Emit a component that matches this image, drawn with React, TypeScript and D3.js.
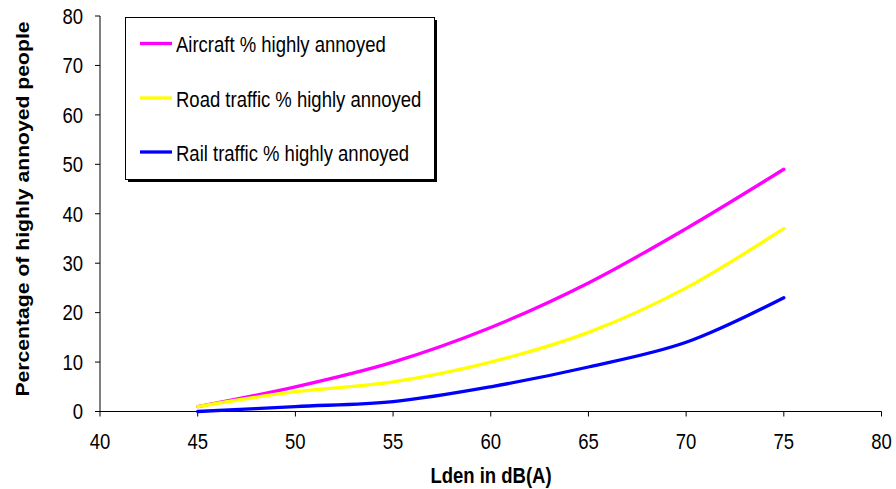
import React from "react";
import * as d3 from "d3";

const xLevels = [45, 50, 55, 60, 65, 70, 75];
const aircraft = [1, 5, 10, 17, 26, 37, 49];
const road = [1, 4, 6, 10, 16, 25, 37];
const rail = [0, 1, 2, 5, 9, 14, 23];
const xTicks = [40, 45, 50, 55, 60, 65, 70, 75, 80];
const yTicks = [0, 10, 20, 30, 40, 50, 60, 70, 80];
const seriesNames = ["Aircraft % highly annoyed", "Road traffic % highly annoyed", "Rail traffic % highly annoyed"];
const seriesColors = ["#ff00ff", "#ffff00", "#0000ff"];

const SY = 1.19;

function T(props: {
  x: number;
  y: number;
  anchor?: string;
  size: number;
  bold?: boolean;
  rotate?: boolean;
  children: React.ReactNode;
}) {
  const { x, y, anchor = "start", size, bold, rotate, children } = props;
  const tr = rotate
    ? `translate(${x},${y}) scale(1,${SY}) rotate(-90)`
    : `translate(${x},${y}) scale(1,${SY})`;
  return (
    <text transform={tr} textAnchor={anchor} fontSize={size} fontWeight={bold ? "bold" : "normal"} fill="#000">
      {children}
    </text>
  );
}

export default function App() {
  const W = 896, H = 489;
  const x = d3.scaleLinear().domain([40, 80]).range([100, 881.5]);
  const y = d3.scaleLinear().domain([0, 80]).range([411.5, 16]);
  const line = d3
    .line<number>()
    .x((_, i) => x(xLevels[i]))
    .y((d) => y(d))
    .curve(d3.curveCatmullRom.alpha(0.5));
  const series = [aircraft, road, rail];
  const font = "Liberation Sans, Arial, sans-serif";
  const legendY = [43.5, 98, 152];
  return (
    <svg width={W} height={H} style={{ position: "absolute", left: 0, top: 0 }} fontFamily={font}>
      <rect width={W} height={H} fill="#fff" />
      <line x1={x(40)} x2={x(40)} y1={y(80)} y2={y(0)} stroke="#000" strokeWidth={1} />
      <line x1={x(40) - 5} x2={x(80)} y1={y(0)} y2={y(0)} stroke="#000" strokeWidth={1} />
      {yTicks.map((t) => (
        <g key={"y" + t}>
          <line x1={x(40) - 5} x2={x(40)} y1={y(t)} y2={y(t)} stroke="#000" />
          <T x={83} y={y(t) + 7.8} anchor="end" size={18.5}>
            {t}
          </T>
        </g>
      ))}
      {xTicks.map((t) => (
        <g key={"x" + t}>
          <line x1={x(t)} x2={x(t)} y1={y(0)} y2={y(0) + 5} stroke="#000" />
          <T x={x(t)} y={449} anchor="middle" size={18.5}>
            {t}
          </T>
        </g>
      ))}
      <T x={491} y={483} anchor="middle" size={18.5} bold>
        Lden in dB(A)
      </T>
      <T x={29} y={209} anchor="middle" size={17.8} bold rotate>
        Percentage of highly annoyed people
      </T>
      {series.map((s, i) => (
        <path key={i} d={line(s) || ""} fill="none" stroke={seriesColors[i]} strokeWidth={3.3} strokeLinecap="round" />
      ))}
      <rect x={128} y={20} width={309} height={162} fill="#000" />
      <rect x={125.5} y={17.5} width={309} height={162} fill="#fff" stroke="#000" strokeWidth={1} />
      {seriesNames.map((n, i) => (
        <g key={n}>
          <line x1={140} x2={172} y1={legendY[i]} y2={legendY[i]} stroke={seriesColors[i]} strokeWidth={3.3} />
          <T x={176} y={legendY[i] + 8.5} size={18.5}>
            {n}
          </T>
        </g>
      ))}
    </svg>
  );
}
